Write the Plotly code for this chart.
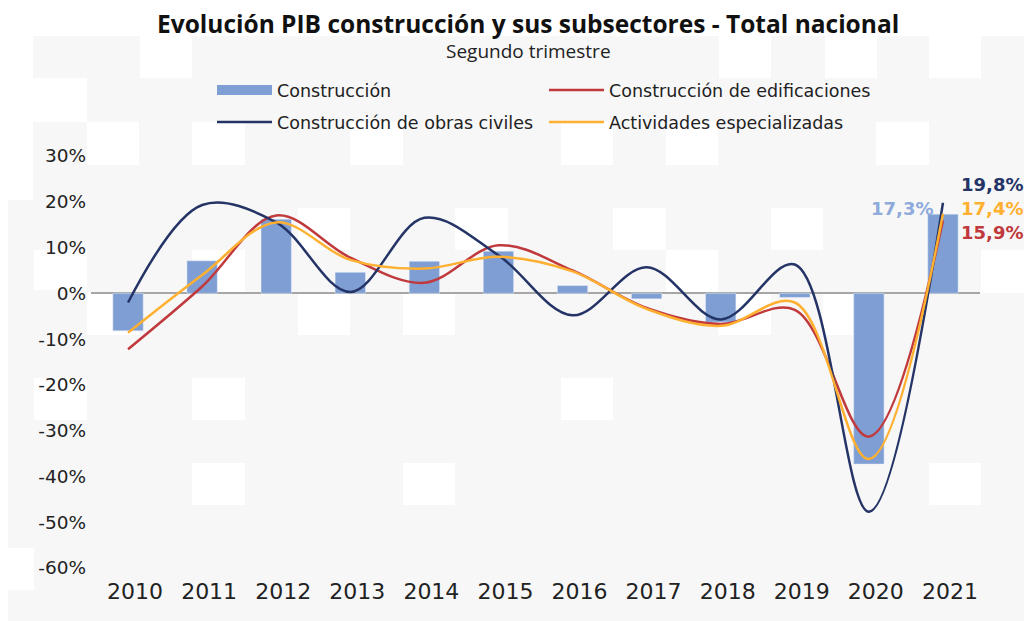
import plotly.graph_objects as go

# ---- data ----
years = ["2010", "2011", "2012", "2013", "2014", "2015", "2016", "2017", "2018", "2019", "2020", "2021"]
construccion = [-8.2, 7.1, 16.2, 4.6, 7.0, 9.2, 1.7, -1.2, -6.3, -0.9, -37.3, 17.3]
edificaciones = [-12.2, 1.5, 17.0, 7.8, 2.3, 10.5, 5.0, -3.2, -6.7, -3.6, -31.3, 15.9]
obras_civiles = [-2.0, 19.3, 15.5, 0.3, 16.5, 8.3, -4.8, 5.7, -5.7, 6.3, -47.7, 19.8]
especializadas = [-8.6, 4.0, 15.5, 7.3, 5.4, 8.0, 4.8, -3.4, -7.1, -2.0, -36.2, 17.4]
y_ticks = [30, 20, 10, 0, -10, -20, -30, -40, -50, -60]
y_tick_text = ["30%", "20%", "10%", "0%", "-10%", "-20%", "-30%", "-40%", "-50%", "-60%"]

C_BAR = "#7f9fd4"
C_EDIF = "#c0393c"
C_OBRAS = "#243466"
C_ESP = "#ffb030"

fig = go.Figure()
fig.add_trace(go.Bar(x=years, y=construccion, name="Construcción", marker_color=C_BAR,
                     showlegend=False))
# legend-only entry so the bar key is drawn as a wide block like the original
fig.add_trace(go.Scatter(x=[None], y=[None], name="Construcción", mode="lines",
                         line=dict(color=C_BAR, width=10), legend="legend"))
fig.add_trace(go.Scatter(x=years, y=edificaciones, name="Construcción de edificaciones", mode="lines",
                         line=dict(color=C_EDIF, width=2.5, shape="spline", smoothing=1.0), legend="legend"))
fig.add_trace(go.Scatter(x=years, y=obras_civiles, name="Construcción de obras civiles", mode="lines",
                         line=dict(color=C_OBRAS, width=2.5, shape="spline", smoothing=1.0), legend="legend2"))
fig.add_trace(go.Scatter(x=years, y=especializadas, name="Actividades especializadas", mode="lines",
                         line=dict(color=C_ESP, width=2.5, shape="spline", smoothing=1.0), legend="legend2"))

# ---- layout geometry (page body has an 8px margin) ----
OFF = 8
W, H = 1032 - OFF, 621 - OFF
ML, MR, MT, MB = 91 - OFF, 52, 156 - OFF, 53
PW, PH = W - ML - MR, H - MB - MT

def px(x):
    return (x - OFF - ML) / PW

def py(y):
    return (H - MB - (y - OFF)) / PH

shapes = [dict(type="rect", xref="paper", yref="paper", x0=px(7), x1=px(1040), y0=py(640), y1=py(36),
               fillcolor="#f7f7f7", line_width=0, layer="below")]
white_cells = [
    (0, 33, 36, 200), (140, 192, 36, 78), (719, 771, 36, 78), (825, 877, 36, 78), (929, 981, 36, 78),
    (33, 87, 78, 122),
    (87, 139, 122, 165), (192, 245, 122, 165), (350, 403, 122, 165), (561, 613, 122, 165),
    (666, 718, 122, 165), (876, 929, 122, 165),
    (34, 87, 250, 290), (192, 245, 250, 293), (298, 350, 208, 250), (455, 508, 208, 250),
    (403, 455, 293, 335), (298, 350, 293, 335), (87, 139, 293, 335), (613, 666, 208, 250),
    (666, 718, 250, 293), (771, 823, 208, 250), (823, 876, 293, 335), (718, 771, 293, 335),
    (981, 1040, 250, 293), (34, 87, 378, 420), (192, 245, 378, 420), (192, 245, 463, 505),
    (403, 455, 463, 505), (561, 613, 378, 420), (929, 981, 463, 505), (0, 34, 548, 590),
]
for (x0, x1, y0, y1) in white_cells:
    shapes.append(dict(type="rect", xref="paper", yref="paper", x0=px(x0), x1=px(x1),
                       y0=py(y1), y1=py(y0), fillcolor="white", line_width=0, layer="below"))

last = len(years) - 1
lab_font = dict(family="DejaVu Sans", size=18, weight="bold")
annotations = [
    dict(x=last, y=obras_civiles[-1], text="19,8%", showarrow=False, xanchor="left",
         xshift=16, yshift=18, font=dict(lab_font, color=C_OBRAS)),
    dict(x=last, y=especializadas[-1], text="17,4%", showarrow=False, xanchor="left",
         xshift=16, yshift=5, font=dict(lab_font, color=C_ESP)),
    dict(x=last, y=edificaciones[-1], text="15,9%", showarrow=False, xanchor="left",
         xshift=16, yshift=-12, font=dict(lab_font, color=C_EDIF)),
    dict(x=last, y=construccion[-1], text="17,3%", showarrow=False, xanchor="right",
         xshift=-8, yshift=6, font=dict(lab_font, color="#8eaadb")),
    dict(xref="paper", yref="paper", x=px(528), y=py(23),
         text="<b>Evolución PIB construcción y sus subsectores - Total nacional</b>",
         showarrow=False, xanchor="center", yanchor="middle",
         font=dict(family="Open Sans", size=24.5, color="#111111")),
    dict(xref="paper", yref="paper", x=px(528), y=py(51), text="Segundo trimestre",
         showarrow=False, xanchor="center", yanchor="middle",
         font=dict(family="Open Sans", size=19, color="#222222")),
]

legend_common = dict(orientation="h", xanchor="left", yanchor="middle", bgcolor="rgba(0,0,0,0)",
                     font=dict(family="DejaVu Sans", size=17.5, color="#222222"),
                     itemwidth=55, entrywidth=262, traceorder="normal", itemclick=False)

fig.update_layout(
    width=W, height=H,
    margin=dict(l=ML, r=MR, t=MT, b=MB, autoexpand=False),
    paper_bgcolor="white", plot_bgcolor="rgba(0,0,0,0)",
    bargap=0.59,
    showlegend=True,
    legend=dict(x=px(212), y=py(90), **legend_common),
    legend2=dict(x=px(212), y=py(122), **legend_common),
    shapes=shapes,
    annotations=annotations,
    xaxis=dict(type="category", range=[-0.5, len(years) - 0.5], showgrid=False, showline=False,
               ticks="", tickfont=dict(family="DejaVu Sans", size=22, color="#222222"),
               ticklabelstandoff=8, ticklabelshift=7),
    yaxis=dict(range=[-60, 30], tickvals=y_ticks, ticktext=y_tick_text, showgrid=False,
               showline=False, ticks="", zeroline=True, zerolinecolor="#a6a6a6", zerolinewidth=2,
               tickfont=dict(family="DejaVu Sans", size=18.5, color="#222222"),
               ticklabelstandoff=4),
)

fig.write_html("out.html")
